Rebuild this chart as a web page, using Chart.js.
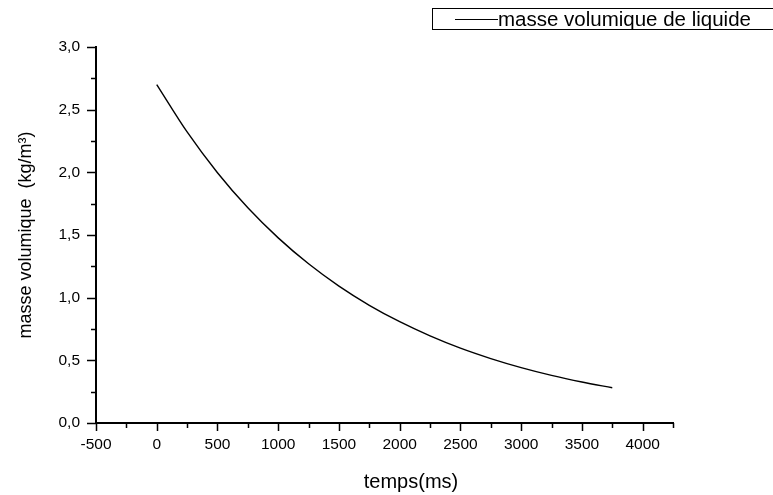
<!DOCTYPE html>
<html>
<head>
<meta charset="utf-8">
<script src="https://cdn.jsdelivr.net/npm/chart.js@4"></script>
<style>
  html, body { margin: 0; padding: 0; background: #fff; }
  #wrap { width: 773px; height: 495px; }
</style>
</head>
<body>
<div id="wrap"><canvas id="density_chart" width="773" height="495"></canvas></div>
<script>
var temps_ms = [0, 250, 500, 750, 1000, 1250, 1500, 1750, 2000, 2250, 2500, 2750, 3000, 3250, 3500, 3750];
var masse_volumique = [2.700, 2.322, 1.997, 1.717, 1.477, 1.270, 1.092, 0.939, 0.808, 0.695, 0.597, 0.514, 0.442, 0.380, 0.327, 0.281];
var x_tick_values = [-500, 0, 500, 1000, 1500, 2000, 2500, 3000, 3500, 4000];
var y_tick_values = [0, 0.5, 1, 1.5, 2, 2.5, 3];
var series_label = 'masse volumique de liquide';
var x_title = 'temps(ms)';
var y_title = 'masse volumique  (kg/m\u00b3)';

var font_family = '"Liberation Sans", Arial, Helvetica, sans-serif';

var points = temps_ms.map(function (t, i) { return {x: t, y: masse_volumique[i]}; });

// Origin-like tick marks: long majors, short minors, all pointing outwards
const tickMarks = {
    id: 'tickMarks',
    afterDraw(chart) {
        const ctx = chart.ctx;
        const xs = chart.scales.x, ys = chart.scales.y;
        ctx.save();
        ctx.strokeStyle = '#000';
        ctx.lineWidth = 1.5;
        ctx.beginPath();
        for (let v = xs.min; v <= xs.max + 1e-6; v += 250) {
            const px = Math.round(xs.getPixelForValue(v)) + 0.5;
            const len = (v % 500 === 0) ? 8 : 5;
            ctx.moveTo(px, xs.top);
            ctx.lineTo(px, xs.top + len);
        }
        for (let v = ys.min; v <= ys.max + 1e-6; v += 0.25) {
            const py = Math.round(ys.getPixelForValue(v)) + 0.5;
            const len = (Math.round(v * 100) % 50 === 0) ? 9 : 5;
            ctx.moveTo(ys.right, py);
            ctx.lineTo(ys.right - len, py);
        }
        ctx.stroke();

        // x axis title, sits a bit right of the plot centre in the original
        ctx.fillStyle = '#000';
        ctx.font = '20px ' + font_family;
        ctx.textAlign = 'center';
        ctx.textBaseline = 'middle';
        ctx.fillText(x_title, 411, 482);
        ctx.restore();
    }
};

// boxed legend in the top right corner, as in the original plot
const boxLegend = {
    id: 'boxLegend',
    afterDraw(chart) {
        const ctx = chart.ctx;
        const ds = chart.data.datasets[0];
        ctx.save();
        ctx.strokeStyle = '#000';
        ctx.lineWidth = 1;
        ctx.strokeRect(432.5, 8.5, 360, 21);
        ctx.strokeStyle = ds.borderColor;
        ctx.beginPath();
        ctx.moveTo(455, 19.5);
        ctx.lineTo(498, 19.5);
        ctx.stroke();
        ctx.fillStyle = '#000';
        ctx.font = '20.5px ' + font_family;
        ctx.textBaseline = 'middle';
        ctx.fillText(ds.label, 498, 20);
        ctx.restore();
    }
};

const config = {
    type: 'line',
    data: {
        datasets: [{
            label: series_label,
            data: points,
            borderColor: '#000',
            borderWidth: 1.4,
            pointRadius: 0,
            fill: false,
            cubicInterpolationMode: 'monotone',
        }]
    },
    options: {
        responsive: false,
        animation: false,
        layout: {
            padding: {left: 0, right: 100, top: 47, bottom: 0}
        },
        scales: {
            x: {
                type: 'linear',
                min: -500,
                max: 4250,
                afterBuildTicks: function (s) {
                    s.ticks = x_tick_values.map(function (v) { return {value: v}; });
                },
                afterFit: function (s) { s.height = 72; },
                grid: {display: false},
                border: {display: true, color: '#000', width: 2},
                ticks: {
                    autoSkip: false,
                    color: '#000',
                    padding: 4,
                    maxRotation: 0,
                    minRotation: 0,
                    font: {family: font_family, size: 15.5},
                    callback: function (v) { return String(v); }
                },
                title: {display: false}
            },
            y: {
                type: 'linear',
                min: 0,
                max: 3,
                afterBuildTicks: function (s) {
                    s.ticks = y_tick_values.map(function (v) { return {value: v}; });
                },
                afterFit: function (s) { s.width = 96; },
                grid: {display: false},
                border: {display: true, color: '#000', width: 2},
                ticks: {
                    color: '#000',
                    padding: 8,
                    font: {family: font_family, size: 15.5},
                    callback: function (v) { return Number(v).toFixed(1).replace('.', ','); }
                },
                title: {
                    display: true,
                    text: y_title,
                    color: '#000',
                    font: {family: font_family, size: 18},
                    padding: {top: 15, bottom: 0}
                }
            }
        },
        plugins: {
            legend: {display: false},
            tooltip: {enabled: false}
        }
    },
    plugins: [tickMarks, boxLegend]
};

const myChart = new Chart(document.getElementById('density_chart'), config);
</script>
</body>
</html>
